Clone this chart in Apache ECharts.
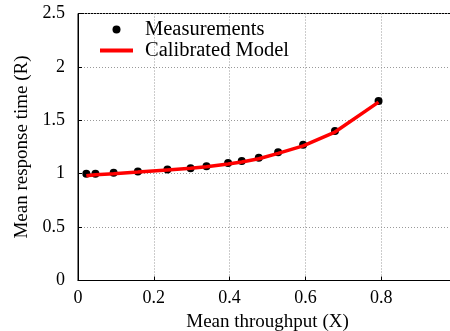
<!DOCTYPE html>
<html><head><meta charset="utf-8">
<script src="https://cdn.jsdelivr.net/npm/echarts@6/dist/echarts.min.js"></script>
<style>html,body{margin:0;padding:0;background:#fff}#c{width:450px;height:331px}</style>
</head><body><div id="c"></div>
<script>
const throughput = [0.022, 0.046, 0.094, 0.158, 0.236, 0.297, 0.339, 0.396, 0.432, 0.477, 0.528, 0.594, 0.678, 0.793];
const measured   = [1.00, 1.00, 1.01, 1.02, 1.04, 1.05, 1.07, 1.10, 1.12, 1.15, 1.20, 1.27, 1.40, 1.68];
const model      = [0.98, 0.99, 1.00, 1.015, 1.035, 1.05, 1.065, 1.09, 1.11, 1.14, 1.19, 1.26, 1.39, 1.67];
const xTicks = [0, 0.2, 0.4, 0.6, 0.8];
const yTicks = [0, 0.5, 1, 1.5, 2, 2.5];

const FONT = '"Liberation Serif", "DejaVu Serif", serif';
const chart = echarts.init(document.getElementById('c'));
chart.setOption({
  animation: false,
  textStyle: {fontFamily: FONT},
  grid: {left: 78, right: -7, top: 13.5, bottom: 50.5, containLabel: false, outerBoundsMode: 'none',
         show: true, borderColor: '#000', borderWidth: 1, backgroundColor: 'transparent'},
  legend: {
    left: 100, top: 19, padding: 0, orient: 'vertical', itemWidth: 33, itemHeight: 8, itemGap: 0,
    textStyle: {fontFamily: FONT, fontSize: 20.5, lineHeight: 18, color: '#000', padding: [0, 0, 0, 7]},
    data: [
      {name: 'Measurements', icon: 'circle'},
      {name: 'Calibrated Model', icon: 'path://M0,0L66,0L66,8L0,8Z', itemStyle: {color: '#ff0000'}}
    ]
  },
  xAxis: {
    type: 'value', min: 0, max: 1, interval: 0.2,
    name: 'Mean throughput (X)', nameLocation: 'middle', nameGap: 29,
    nameTextStyle: {fontFamily: FONT, fontSize: 19, color: '#000'},
    axisLine: {show: true, onZero: false, lineStyle: {color: '#000', width: 1}},
    axisTick: {show: true, inside: true, length: 4, lineStyle: {color: '#000'}},
    axisLabel: {fontFamily: FONT, fontSize: 18, color: '#000', margin: 9,
      formatter: v => xTicks.includes(Math.round(v*10)/10) ? String(Math.round(v*10)/10) : ''},
    splitLine: {show: true, lineStyle: {color: '#999', type: [1, 2], width: 1}}
  },
  yAxis: {
    type: 'value', min: 0, max: 2.5, interval: 0.5,
    name: 'Mean response time (R)', nameLocation: 'middle', nameGap: 45,
    nameTextStyle: {fontFamily: FONT, fontSize: 19, color: '#000'},
    axisLine: {show: true, lineStyle: {color: '#000', width: 1}},
    axisTick: {show: true, inside: true, length: 4, lineStyle: {color: '#000'}},
    axisLabel: {fontFamily: FONT, fontSize: 18, color: '#000', margin: 13,
      formatter: v => yTicks.includes(v) ? String(v) : ''},
    splitLine: {show: true, lineStyle: {color: '#999', type: [1, 2], width: 1}}
  },
  series: [
    {name: 'Measurements', type: 'scatter', symbol: 'circle', symbolSize: 8, z: 2,
     itemStyle: {color: '#000', opacity: 1}, data: throughput.map((x, i) => [x, measured[i]])},
    {name: 'Calibrated Model', type: 'line', symbol: 'none', z: 3,
     lineStyle: {color: '#ff0000', width: 3.5}, itemStyle: {color: '#ff0000'},
     data: throughput.map((x, i) => [x, model[i]])}
  ]
});
</script></body></html>
